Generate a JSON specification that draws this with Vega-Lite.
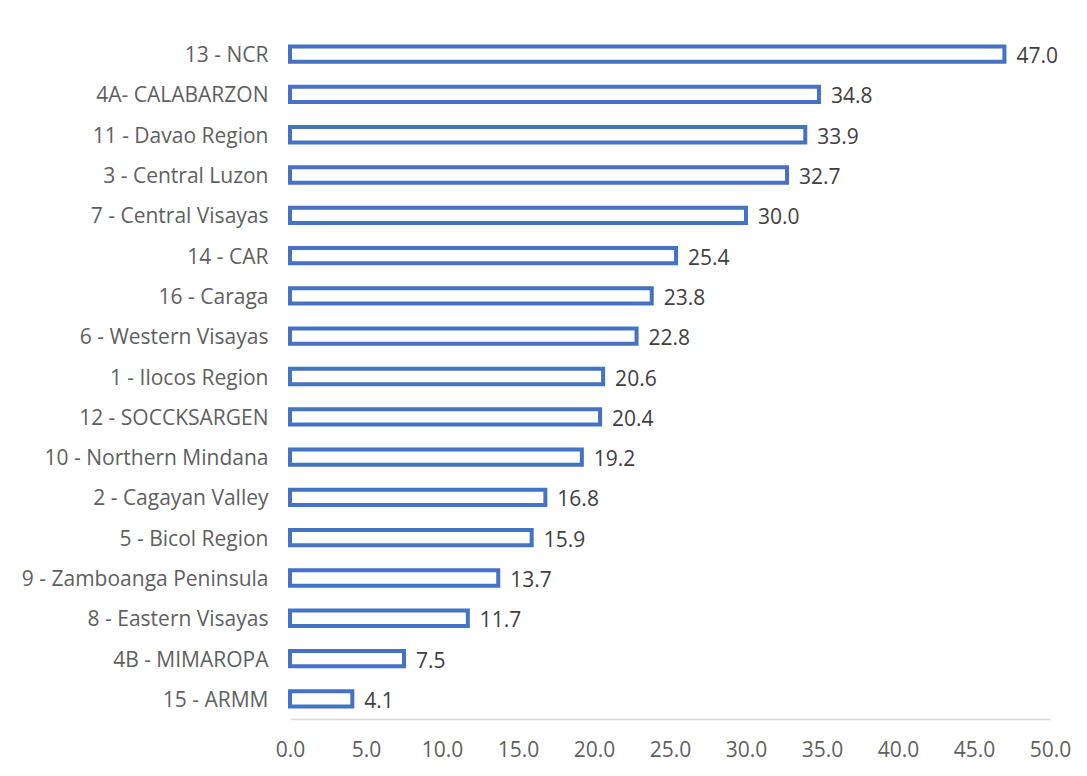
{
  "$schema": "https://vega.github.io/schema/vega-lite/v6.json",
  "autosize": "none",
  "width": 760,
  "height": 685,
  "padding": {"left": 290, "top": 34, "right": 37, "bottom": 57},
  "background": "white",
  "config": {"view": {"stroke": null}, "font": "Open Sans"},
  "data": {
    "values": [
      {"region": "13 - NCR", "value": 47.0},
      {"region": "4A- CALABARZON", "value": 34.8},
      {"region": "11 - Davao Region", "value": 33.9},
      {"region": "3 - Central Luzon", "value": 32.7},
      {"region": "7 - Central Visayas", "value": 30.0},
      {"region": "14 - CAR", "value": 25.4},
      {"region": "16 - Caraga", "value": 23.8},
      {"region": "6 - Western Visayas", "value": 22.8},
      {"region": "1 - Ilocos Region", "value": 20.6},
      {"region": "12 - SOCCKSARGEN", "value": 20.4},
      {"region": "10 - Northern Mindana", "value": 19.2},
      {"region": "2 - Cagayan Valley", "value": 16.8},
      {"region": "5 - Bicol Region", "value": 15.9},
      {"region": "9 - Zamboanga Peninsula", "value": 13.7},
      {"region": "8 - Eastern Visayas", "value": 11.7},
      {"region": "4B - MIMAROPA", "value": 7.5},
      {"region": "15 - ARMM", "value": 4.1}
    ]
  },
  "encoding": {
    "y": {
      "field": "region",
      "type": "nominal",
      "sort": null,
      "scale": {"paddingInner": 0.62, "paddingOuter": 0.31},
      "axis": {
        "title": null,
        "domain": false,
        "ticks": false,
        "labelFontSize": 21,
        "labelColor": "#5F5F5F",
        "labelPadding": 22,
        "labelOffset": 2,
        "labelLimit": 300
      }
    },
    "x": {
      "field": "value",
      "type": "quantitative",
      "scale": {"domain": [0, 50], "nice": false},
      "axis": {
        "title": null,
        "values": [0, 5, 10, 15, 20, 25, 30, 35, 40, 45, 50],
        "format": ".1f",
        "grid": false,
        "ticks": false,
        "domainColor": "#D9D9D9",
        "domainWidth": 1.5,
        "labelFontSize": 21,
        "labelColor": "#5F5F5F",
        "labelPadding": 20,
        "labelFlush": false
      }
    }
  },
  "layer": [
    {
      "mark": {"type": "bar", "fill": "white", "stroke": "#4472C4", "strokeWidth": 4}
    },
    {
      "mark": {"type": "text", "align": "left", "baseline": "middle", "dx": 12, "dy": 3, "fontSize": 21, "color": "#404040"},
      "encoding": {
        "text": {"field": "value", "type": "quantitative", "format": ".1f"}
      }
    }
  ]
}
